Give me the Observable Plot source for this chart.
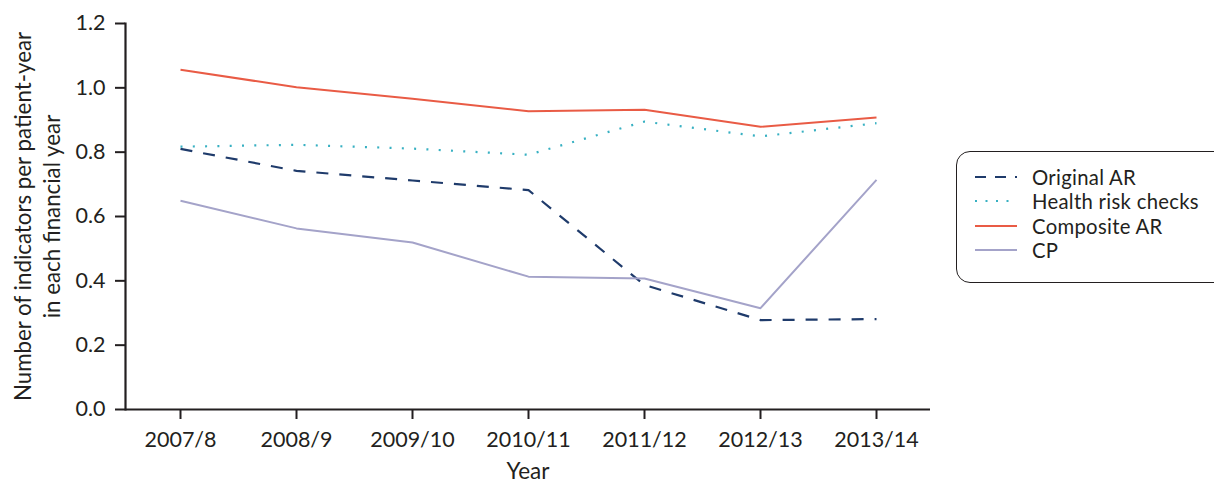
<!DOCTYPE html>
<html>
<head>
<meta charset="utf-8">
<script src="https://cdn.jsdelivr.net/npm/d3@7"></script>
<script src="https://cdn.jsdelivr.net/npm/@observablehq/plot@0.6"></script>
<style>
  html, body { margin: 0; padding: 0; background: #fff; }
  #wrap { position: relative; width: 1214px; height: 485px; overflow: hidden; font-family: Lato, "Open Sans", sans-serif; color: #231f20; }
  #legend { position: absolute; left: 956px; top: 151px; width: 290px; height: 132px; border: 1.6px solid #231f20; border-radius: 14px; box-sizing: border-box; }
  .row { position: absolute; left: 18px; height: 22px; line-height: 22px; display: flex; align-items: center; font-size: 20.3px; white-space: nowrap; letter-spacing: 0.3px; }
  .row span { display: inline-block; height: 22px; line-height: 22px; }
  .row svg { margin-right: 15px; }
</style>
</head>
<body>
<div id="wrap"><div id="chart"></div><div id="legend"></div></div>
<script>
const years = ["2007/8", "2008/9", "2009/10", "2010/11", "2011/12", "2012/13", "2013/14"];
const originalAR = [0.81, 0.742, 0.712, 0.682, 0.387, 0.278, 0.281];
const healthRiskChecks = [0.817, 0.823, 0.811, 0.792, 0.895, 0.849, 0.89];
const compositeAR = [1.056, 1.002, 0.966, 0.927, 0.932, 0.879, 0.908];
const cp = [0.649, 0.563, 0.519, 0.413, 0.407, 0.315, 0.714];
const yTicks = [0, 0.2, 0.4, 0.6, 0.8, 1.0, 1.2];

const seriesNames = ["Original AR", "Health risk checks", "Composite AR", "CP"];
const seriesValues = [originalAR, healthRiskChecks, compositeAR, cp];
const seriesStyle = [
  {stroke: "#1f3b6b", dash: "12,11", legendDash: "11,9", width: 2.2},
  {stroke: "#37b0c2", dash: "2,10.3", legendDash: "2,8.5", width: 2.2},
  {stroke: "#e95b45", dash: null, legendDash: null, width: 2},
  {stroke: "#a4a3c9", dash: null, legendDash: null, width: 2}
];

const rows = [];
seriesNames.forEach((s, i) => years.forEach((y, j) => rows.push({series: s, year: y, value: seriesValues[i][j]})));

const lineMarks = seriesNames.map((s, i) => Plot.line(rows.filter(d => d.series === s), {
  x: "year", y: "value",
  stroke: seriesStyle[i].stroke,
  strokeWidth: seriesStyle[i].width,
  strokeDasharray: seriesStyle[i].dash,
  strokeLinecap: "butt"
}));

const chart = Plot.plot({
  width: 1214,
  height: 485,
  marginLeft: 125,
  marginRight: 284,
  marginTop: 23,
  marginBottom: 76,
  style: {fontFamily: "Lato, 'Open Sans', sans-serif", color: "#231f20", background: "white"},
  x: {type: "point", domain: years, padding: 0.45},
  y: {domain: [0, 1.2]},
  marks: [
    ...lineMarks,
    Plot.axisY({ticks: yTicks, tickFormat: d => d.toFixed(1), tickSize: 10, tickPadding: 10, fontSize: 21.5, label: null, strokeWidth: 2}),
    Plot.axisX({tickSize: 10, tickPadding: 12, fontSize: 21.5, label: null, strokeWidth: 2}),
    Plot.frame({anchor: "left", strokeWidth: 2.2, stroke: "#231f20"}),
    Plot.ruleY([0], {strokeWidth: 2.2, stroke: "#231f20"}),
    Plot.text(["Number of indicators per patient-year\nin each financial year"], {
      frameAnchor: "left", rotate: -90, dx: -89, fontSize: 22.3, lineHeight: 1.27, fill: "#231f20", textAnchor: "middle", lineAnchor: "middle"
    }),
    Plot.text(["Year"], {frameAnchor: "bottom", dy: 69, fontSize: 22.5, fill: "#231f20"})
  ]
});
document.getElementById("chart").appendChild(chart);

const legend = document.getElementById("legend");
const rowTops = [13.5, 38, 62.5, 87];
seriesNames.forEach((s, i) => {
  const r = document.createElement("div");
  r.className = "row";
  r.style.top = rowTops[i] + "px";
  const st = seriesStyle[i];
  r.innerHTML = `<svg width="42" height="10"><line x1="0" y1="5" x2="42" y2="5" stroke="${st.stroke}" stroke-width="${st.width}" ${st.legendDash ? `stroke-dasharray="${st.legendDash}"` : ""}/></svg><span>${s}</span>`;
  legend.appendChild(r);
});
</script>
</body>
</html>
